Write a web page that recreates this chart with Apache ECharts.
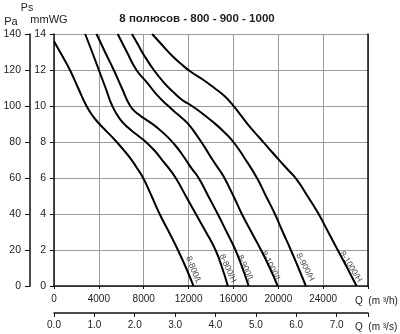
<!DOCTYPE html>
<html>
<head>
<meta charset="utf-8">
<script src="https://cdn.jsdelivr.net/npm/echarts@6/dist/echarts.min.js"></script>
<style>
html,body{margin:0;padding:0;background:#fff;}
#c{width:400px;height:334px;}
</style>
</head>
<body>
<div id="c"></div>
<script>
// ---- data (Q in m3/h, Ps in mmWG) ----
const curveNames = ['8-800/L', '8-800/H', '8-900/L', '8-1000/L', '8-900/H', '8-1000/H'];
const c800L = [[0,13.6],[720,12.8],[1420,12],[2150,11],[2900,10],[3450,9.45],[4050,9.0],[4750,8.55],[5450,8.1],[6150,7.6],[6800,7.1],[7350,6.6],[7950,6.0],[8700,5],[9420,4],[10250,3],[11050,2],[11780,1],[12440,0]];
const c800H = [[2780,14],[3400,13],[4000,12],[4600,11],[5200,10],[5850,9.3],[6600,8.8],[7400,8.4],[8200,8.0],[9000,7.5],[9700,6.95],[10350,6.45],[10950,5.9],[11800,4.95],[12650,4],[13550,3],[14400,2],[15000,1],[15500,0]];
const c900L = [[3790,14],[4550,13],[5330,12],[6050,11],[6800,10],[7500,9.55],[8300,9.2],[9200,8.8],[10100,8.3],[10900,7.75],[11600,7.15],[12250,6.55],[12900,6.0],[13750,5.0],[14600,4],[15400,3],[16180,2],[16800,1],[17360,0]];
const c1000L = [[5680,14],[6500,13],[7350,12],[8300,11.3],[9200,10.6],[10100,10.05],[11000,9.55],[11900,9.05],[12700,8.4],[13450,7.7],[14150,7.0],[14800,6.4],[15200,6.0],[16000,5.0],[16750,4],[17600,3],[18460,2],[19250,1],[19940,0]];
const c900H = [[6950,14],[7500,13.4],[8000,12.85],[8900,12],[9800,11.3],[10600,10.8],[11400,10.35],[12300,10.0],[13200,9.6],[14100,9.15],[15100,8.6],[16000,8.0],[17000,7.1],[18100,6.0],[18900,5.0],[19700,4],[20400,3],[21120,2],[21800,1],[22460,0]];
const c1000H = [[8750,14],[9700,13.35],[10600,12.75],[11400,12.3],[12200,11.9],[13200,11.5],[14300,11.0],[15200,10.55],[15950,10.05],[16700,9.45],[17450,8.85],[18300,8.25],[19150,7.65],[20000,7.05],[20800,6.5],[21600,5.95],[22600,5],[23600,4],[24450,3],[25300,2],[26150,1],[26980,0]];
const curves = [c800L, c800H, c900L, c1000L, c900H, c1000H];
// curve label anchors (data coords)
const labelQ = [12440, 15500, 17070, 19350, 22400, 26460];
const labelP = [0.89, 0.98, 0.98, 1.07, 1.04, 1.07];
// axes
const qMaxH = 28000, qStepH = 4000;
const psMax = 14, psStep = 2;
const paMax = 140, paStep = 20;
const qsStep = 1;
const titleText = '8 полюсов - 800 - 900 - 1000';

// ---- styles ----
const labelRot = [-68, -66, -66, -63, -62, -58];
const FONT = '"Liberation Sans", Arial, sans-serif';
const TXT = '#222';
const GRID = '#9a9a9a';

const chart = echarts.init(document.getElementById('c'), null, {renderer: 'canvas'});

const series = curves.map((d, i) => ({
  type: 'line', name: curveNames[i], data: d, smooth: 0.5, showSymbol: false,
  xAxisIndex: 0, yAxisIndex: 0, silent: true,
  lineStyle: {color: '#000', width: 2}
}));
series.push({
  type: 'scatter', xAxisIndex: 0, yAxisIndex: 0, symbolSize: 0, silent: true,
  data: curveNames.map((n, i) => ({
    name: n, value: [labelQ[i], labelP[i]],
    label: {rotate: labelRot[i]}
  })),
  label: {show: true, position: 'inside', formatter: p => p.name, color: '#111',
          fontFamily: FONT, fontSize: 8.5, align: 'center', verticalAlign: 'middle'}
});

function txt(text, x, y, font, align) {
  return {type: 'text', x: x, y: y, silent: true,
    style: {text: text, font: font, fill: TXT, align: align || 'center', verticalAlign: 'middle'}};
}

chart.setOption({
  animation: false,
  backgroundColor: '#fff',
  grid: {left: 54, right: 32, top: 34, bottom: 48, containLabel: false, outerBoundsMode: 'none'},
  xAxis: [{
    type: 'value', min: 0, max: qMaxH, interval: qStepH, position: 'bottom',
    axisLine: {show: true, onZero: false, lineStyle: {color: '#111', width: 1.5}},
    axisTick: {show: true, length: 3, lineStyle: {color: '#111'}},
    splitLine: {show: true, lineStyle: {color: GRID, width: 1}},
    axisLabel: {color: TXT, fontFamily: FONT, fontSize: 10, margin: 8,
      formatter: v => (v >= qMaxH ? '' : String(v))}
  }, {
    type: 'value', min: 0, max: qMaxH / 3600, interval: qsStep, position: 'bottom', offset: 27,
    axisLine: {show: true, onZero: false, lineStyle: {color: '#111', width: 1.5}},
    axisTick: {show: true, length: 4, lineStyle: {color: '#111'}},
    splitLine: {show: false},
    axisLabel: {color: TXT, fontFamily: FONT, fontSize: 10, margin: 7,
      formatter: v => (Math.abs(v - Math.round(v)) < 1e-6 ? v.toFixed(1) : '')}
  }],
  yAxis: [{
    type: 'value', min: 0, max: psMax, interval: psStep, position: 'left',
    axisLine: {show: true, onZero: false, lineStyle: {color: '#111', width: 1.5}},
    axisTick: {show: true, length: 4, lineStyle: {color: '#111'}},
    splitLine: {show: true, lineStyle: {color: GRID, width: 1}},
    axisLabel: {color: TXT, fontFamily: FONT, fontSize: 10.5, margin: 8}
  }, {
    type: 'value', min: 0, max: paMax, interval: paStep, position: 'left', offset: 24,
    axisLine: {show: true, onZero: false, lineStyle: {color: '#111', width: 1.5}},
    axisTick: {show: true, length: 5, lineStyle: {color: '#111'}},
    splitLine: {show: false},
    axisLabel: {color: TXT, fontFamily: FONT, fontSize: 10.5, margin: 9}
  }, {
    type: 'value', min: 0, max: psMax, position: 'right',
    axisLine: {show: true, onZero: false, lineStyle: {color: '#111', width: 1.5}},
    axisTick: {show: false}, axisLabel: {show: false}, splitLine: {show: false}
  }],
  series: series,
  graphic: [
    txt('Pa', 11, 22, '11px ' + FONT),
    txt('Ps', 27, 8, '10.5px ' + FONT),
    txt('mmWG', 49, 20, '11px ' + FONT),
    txt(titleText, 197, 19, 'bold 11.5px ' + FONT),
    txt('Q  (m ³/h)', 355, 301, '10px ' + FONT, 'left'),
    txt('Q  (m ³/s)', 355, 327, '10px ' + FONT, 'left')
  ]
});
</script>
</body>
</html>
